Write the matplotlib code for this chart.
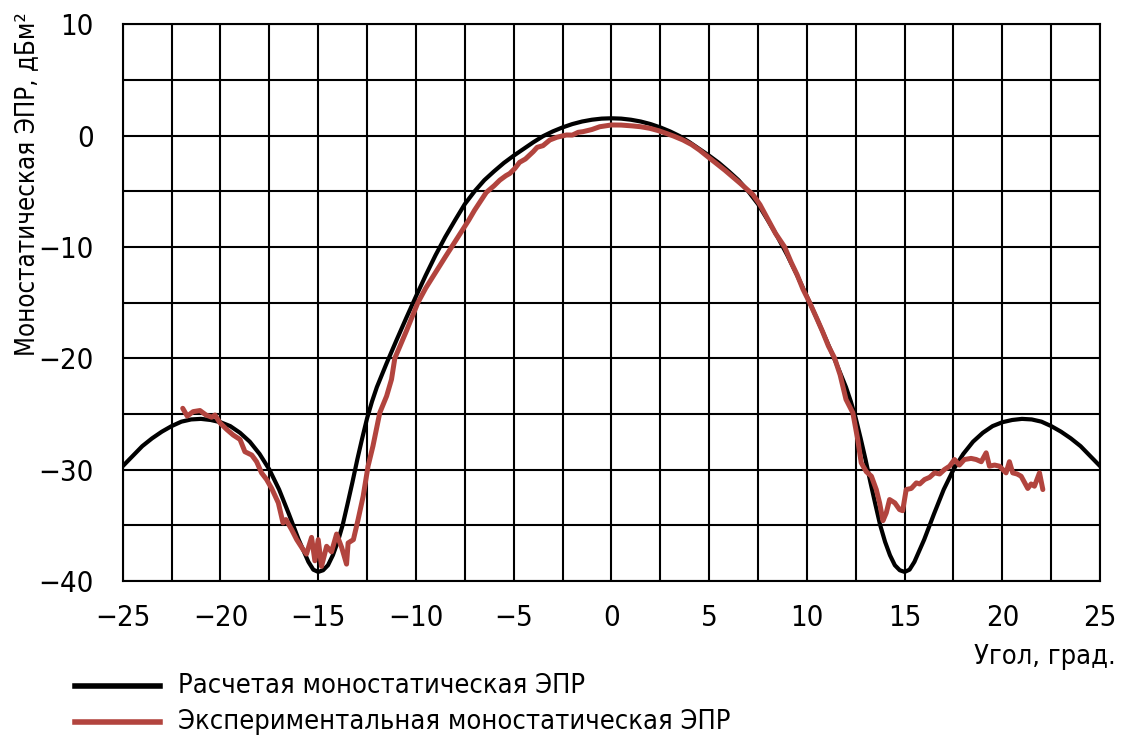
import matplotlib
matplotlib.use("Agg")
import matplotlib.pyplot as plt
from matplotlib.lines import Line2D
from matplotlib import font_manager
from matplotlib.font_manager import FontProperties

# ---- data ----
calc_x_right = [0.5, 1, 1.5, 2, 2.5, 3, 3.5, 4, 4.5, 5, 5.5, 6, 6.5, 7, 7.5, 8, 8.5,
                9, 9.5, 10, 10.5, 11, 11.5, 12, 12.25, 12.5, 12.75, 13, 13.25, 13.5,
                13.75, 14, 14.25, 14.5, 14.75, 15, 15.25, 15.5, 16, 16.5, 17, 17.5,
                18, 18.5, 19, 19.5, 20, 20.5, 21, 21.5, 22, 22.5, 23, 23.5, 24, 24.5, 25]
calc_y_right = [1.53, 1.43, 1.27, 1.04, 0.74, 0.38, -0.05, -0.6, -1.2, -1.8, -2.45, -3.2, -4.0, -5.0, -6.15, -7.6, -9.1,
                -10.75, -12.55, -14.45, -16.4, -18.4, -20.45, -22.6, -23.9, -25.4, -27.2, -29.1, -31.15, -33.1,
                -35.0, -36.5, -37.7, -38.6, -39.05, -39.2, -39.0, -38.3, -36.3, -34.0, -31.8, -30.0,
                -28.6, -27.5, -26.7, -26.1, -25.75, -25.55, -25.45, -25.5, -25.7, -26.1, -26.6, -27.2, -27.9, -28.8, -29.7]
calc_x = [-v for v in reversed(calc_x_right)] + [0] + calc_x_right
calc_y = list(reversed(calc_y_right)) + [1.56] + calc_y_right

exp_x = [-21.93, -21.7, -21.4, -21.05, -20.74, -20.45, -20.28, -20.03, -19.68, -19.35,
         -19.0, -18.75, -18.4, -18.15, -17.9, -17.64, -17.38, -17.04, -16.8, -16.65,
         -16.36, -16.1, -15.77, -15.6, -15.34, -15.17, -15.0, -14.83, -14.57, -14.32,
         -14.06, -13.8, -13.55, -13.47, -13.2, -12.96, -12.7, -12.45, -12.2, -11.85,
         -11.5, -11.25, -11.08, -10.5, -9.9, -9.5, -9.0, -8.5, -8.1, -7.7, -7.3, -7.0,
         -6.4, -6.0, -5.71, -5.4, -5.2, -4.94, -4.7, -4.4, -4.0, -3.8, -3.5, -3.15,
         -2.8, -2.3, -2.0, -1.7, -1.45, -1.0, -0.6, 0.0, 0.5, 1.1, 1.5, 1.96, 2.4,
         2.81, 3.2, 3.66, 4.1, 4.51, 4.9, 5.37, 5.8, 6.2, 6.6, 6.98, 7.24, 7.6, 8.0,
         8.4, 8.86, 9.2, 9.5, 9.8, 10.14, 10.5, 10.8, 11.1, 11.42, 11.7, 12.0, 12.35,
         12.6, 12.78, 13.04, 13.3, 13.55, 13.72, 13.89, 14.06, 14.23, 14.5, 14.74,
         14.9, 15.08, 15.34, 15.6, 15.77, 16.02, 16.28, 16.53, 16.79, 17.04, 17.3,
         17.55, 17.8, 18.06, 18.4, 18.66, 18.92, 19.17, 19.34, 19.6, 19.85, 20.19,
         20.36, 20.53, 20.75, 20.96, 21.3, 21.47, 21.64, 21.9, 22.07]
exp_y = [-24.5, -25.2, -24.8, -24.7, -25.1, -25.3, -25.1, -25.8, -26.4, -26.9,
         -27.3, -28.4, -28.7, -29.3, -30.3, -30.9, -31.7, -33.0, -34.8, -34.5,
         -35.4, -36.3, -37.2, -37.6, -36.1, -38.2, -36.3, -38.7, -36.9, -37.4,
         -35.8, -37.0, -38.5, -36.6, -36.3, -34.5, -32.4, -29.7, -27.9, -24.9,
         -23.4, -21.9, -20.0, -17.6, -15.0, -13.7, -12.3, -10.9, -9.8, -8.7, -7.6, -6.7,
         -5.1, -4.5, -4.0, -3.6, -3.4, -2.95, -2.4, -2.1, -1.44, -1.05, -0.9, -0.39,
         -0.15, 0.06, 0.05, 0.3, 0.36, 0.55, 0.8, 0.96, 0.95, 0.87, 0.8, 0.66, 0.45,
         0.2, -0.05, -0.39, -0.8, -1.3, -1.85, -2.5, -3.1, -3.7, -4.3, -4.9, -5.3, -6.2, -7.5,
         -8.8, -10.0, -11.4, -12.5, -13.8, -15.0, -16.4, -17.6, -18.9, -20.0, -21.5, -23.7, -24.9,
         -27.3, -29.4, -30.2, -30.6, -31.8, -33.0, -34.6, -33.9, -32.7, -33.0, -33.6,
         -33.7, -31.8, -31.7, -31.2, -31.3, -30.9, -30.7, -30.3, -30.4, -30.0, -29.7,
         -29.1, -29.6, -29.1, -29.0, -29.1, -29.3, -28.5, -29.7, -29.6, -29.7, -30.3,
         -29.3, -30.3, -30.4, -30.6, -31.7, -31.3, -31.5, -30.3, -31.8]

x_ticks = [-25, -20, -15, -10, -5, 0, 5, 10, 15, 20, 25]
y_ticks = [-40, -30, -20, -10, 0, 10]
x_tick_labels = ["\u221225", "\u221220", "\u221215", "\u221210", "\u22125", "0", "5", "10", "15", "20", "25"]
y_tick_labels = ["\u221240", "\u221230", "\u221220", "\u221210", "0", "10"]

ylabel = "Моностатическая ЭПР, дБм²"
xlabel = "Угол, град."
legend_labels = ["Расчетая моностатическая ЭПР", "Экспериментальная моностатическая ЭПР"]

# ---- font: prefer a narrow / condensed sans face ----
def pick_font():
    cands = []
    for f in font_manager.fontManager.ttflist:
        nm = f.name
        fn = f.fname.lower()
        if f.style != 'normal':
            continue
        if f.weight not in (400, 'normal', 'regular', 'book'):
            continue
        narrow = ('narrow' in nm.lower() or 'condensed' in nm.lower()
                  or 'condensed' in fn or 'narrow' in fn
                  or f.stretch in ('condensed', 'semi-condensed', 'extra-condensed'))
        if not narrow or 'mono' in nm.lower() or 'serif' in nm.lower() and 'sans' not in nm.lower():
            continue
        if 'semicondensed' in fn or 'semi' in str(f.stretch):
            rank = 3
        elif 'extracondensed' in fn or 'extra' in str(f.stretch):
            rank = 2
        else:
            rank = 0
        if 'liberation' in fn:
            rank -= 1
        cands.append((rank, f.fname))
    cands.sort()
    return cands[0][1] if cands else None

fpath = pick_font()
if fpath:
    fp = lambda s: FontProperties(fname=fpath, size=s)
else:
    fp = lambda s: FontProperties(family='DejaVu Sans', size=s)

fig = plt.figure(figsize=(11.26, 7.38), dpi=100)
ax = fig.add_axes([0.109, 0.213, 0.868, 0.754])

black = "#000000"
red = "#b2443e"

ax.plot(calc_x, calc_y, color=black, lw=3.0, solid_capstyle='round', solid_joinstyle='round', zorder=3)
ax.plot(exp_x, exp_y, color=red, lw=3.6, solid_capstyle='round', solid_joinstyle='round', zorder=4)

ax.set_xlim(-25, 25)
ax.set_ylim(-40, 10)
ax.set_xticks(x_ticks)
ax.set_xticklabels(x_tick_labels, fontproperties=fp(21))
ax.set_yticks(y_ticks)
ax.set_yticklabels(y_tick_labels, fontproperties=fp(21))
ax.set_xticks([v + 2.5 for v in x_ticks[:-1]], minor=True)
ax.set_yticks([v + 5 for v in y_ticks[:-1]], minor=True)
ax.grid(True, which='both', color='black', lw=1.5)
ax.tick_params(which='both', length=0)
ax.tick_params(axis='x', pad=17)
ax.tick_params(axis='y', pad=21)
for s in ax.spines.values():
    s.set_linewidth(1.5)

W, H = 1126.0, 738.0
fig.text(27 / W, 1 - 184 / H, ylabel, rotation=90, ha='center', va='center', fontproperties=fp(18.5))
fig.text(1116 / W, 1 - 657 / H, xlabel, ha='right', va='center', fontproperties=fp(19.5))

leg_rows = [(686, black), (722, red)]
for (ypx, col), lab in zip(leg_rows, legend_labels):
    yf = 1 - ypx / H
    fig.add_artist(Line2D([75 / W, 160 / W], [yf, yf], color=col, lw=4.0,
                          transform=fig.transFigure))
    fig.text(178 / W, yf, lab, ha='left', va='center', fontproperties=fp(19.5))

fig.savefig("out.png", dpi=100)
